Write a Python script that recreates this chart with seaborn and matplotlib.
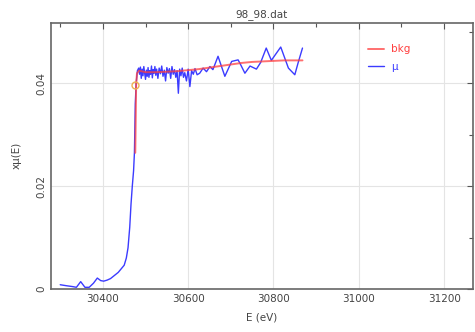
import matplotlib
matplotlib.use("Agg")
import matplotlib.pyplot as plt
from matplotlib.ticker import MultipleLocator
import seaborn as sns
import pandas as pd

# energy grid (eV) and absorption for the data trace
energy = [30300, 30315, 30328, 30338, 30348, 30358, 30368, 30378, 30387, 30395,
          30402, 30410, 30418, 30427, 30436, 30444, 30450, 30455, 30459, 30463,
          30466, 30469, 30472, 30474, 30476, 30478, 30481, 30484, 30486, 30488,
          30490, 30492, 30494, 30496, 30498, 30500, 30502, 30504, 30506, 30508,
          30510, 30512, 30514, 30516, 30518, 30520, 30522, 30524, 30526, 30529,
          30532, 30535, 30538, 30541, 30544, 30547, 30550, 30553, 30556, 30559,
          30562, 30565, 30568, 30571, 30574, 30577, 30580, 30583, 30586, 30589,
          30592, 30596, 30600, 30604, 30608, 30612, 30616, 30621, 30627, 30635,
          30643, 30651, 30658, 30670, 30686, 30702, 30717, 30721, 30733, 30745,
          30760, 30770, 30783, 30795, 30817, 30835, 30850, 30858, 30868]
mu = [0.0008, 0.0006, 0.00045, 0.0003, 0.0014, 0.0003, 0.0003, 0.0011, 0.0021, 0.0016,
      0.0015, 0.0017, 0.0020, 0.0026, 0.0032, 0.0040, 0.0046, 0.0060, 0.0080, 0.0120,
      0.0165, 0.0200, 0.0230, 0.0265, 0.0360, 0.0400, 0.0425, 0.0430, 0.0418, 0.0432,
      0.0410, 0.0428, 0.0415, 0.0433, 0.0420, 0.0408, 0.0426, 0.0414, 0.0431, 0.0412,
      0.0425, 0.0418, 0.0434, 0.0411, 0.0427, 0.0420, 0.0433, 0.0416, 0.0428, 0.0410,
      0.0430, 0.0419, 0.0434, 0.0414, 0.0426, 0.0405, 0.0431, 0.0420, 0.0429, 0.0410,
      0.0433, 0.0418, 0.0427, 0.0412, 0.0425, 0.0381, 0.0428, 0.0415, 0.0430, 0.0412,
      0.0421, 0.0405, 0.0428, 0.0394, 0.0425, 0.0418, 0.0429, 0.0417, 0.0420, 0.0430,
      0.0423, 0.0433, 0.0427, 0.0453, 0.0414, 0.0443, 0.0446, 0.0440, 0.0420, 0.0434,
      0.0428, 0.0441, 0.0469, 0.0445, 0.0471, 0.0430, 0.0417, 0.0441, 0.0469]

# smooth background
bkg_energy = [30476, 30478, 30480, 30485, 30500, 30525, 30550, 30575, 30600, 30625,
              30650, 30675, 30700, 30725, 30750, 30775, 30800, 30825, 30850, 30868]
bkg = [0.0265, 0.0398, 0.0420, 0.0425, 0.0422, 0.0422, 0.0423, 0.0424, 0.0426, 0.0428,
       0.0431, 0.0434, 0.0437, 0.0440, 0.0442, 0.0443, 0.0444, 0.0445, 0.0445, 0.0445]

# edge energy marker
e0 = [30475]
e0_mu = [0.0398]

df_mu = pd.DataFrame({"E": energy, "mu": mu})
df_bkg = pd.DataFrame({"E": bkg_energy, "bkg": bkg})

sns.set_style("white")
plt.rcParams["font.family"] = ["DejaVu Sans"]

fig = plt.figure(figsize=(4.75, 3.32), dpi=100)
ax = fig.add_axes([0.107, 0.13, 0.889, 0.801])

sns.lineplot(data=df_mu, x="E", y="mu", ax=ax, color="#3b3bff", lw=1.0,
             label="\u03bc", sort=False)
sns.lineplot(data=df_bkg, x="E", y="bkg", ax=ax, color="#ff4040", lw=1.4,
             alpha=0.75, label="bkg", sort=False)
ax.plot(e0, e0_mu, "o", mfc="none", mec="#f0b050", ms=5, mew=1.0)

ax.set_xlim(30278, 31268)
ax.set_ylim(0, 0.0518)
ax.xaxis.set_major_locator(MultipleLocator(200))
ax.xaxis.set_minor_locator(MultipleLocator(100))
ax.yaxis.set_major_locator(MultipleLocator(0.02))
ax.yaxis.set_minor_locator(MultipleLocator(0.01))
ax.set_yticks([0, 0.02, 0.04])
ax.set_yticklabels(["0", "0.02", "0.04"], rotation=90, va="center")

ax.grid(True, which="major", color="#e4e4e4", lw=0.8)
ax.tick_params(which="both", direction="in", top=True, right=True,
               colors="#555555", labelcolor="#444444", labelsize=7.5)
ax.tick_params(which="major", length=4, width=0.8)
ax.tick_params(which="minor", length=3, width=0.8)
for s in ax.spines.values():
    s.set_color("#666666")
    s.set_linewidth(1.2)

ax.set_title("98_98.dat", fontsize=7.5, color="#444444", pad=4)
ax.set_xlabel("E (eV)", fontsize=7.5, color="#444444", labelpad=6)
ax.set_ylabel("x\u03bc(E)", fontsize=7.5, color="#444444", labelpad=10)

handles, labels = ax.get_legend_handles_labels()
leg = ax.legend(handles[::-1], labels[::-1], loc="upper left",
                bbox_to_anchor=(0.73, 0.955), frameon=False, fontsize=7.5,
                handlelength=1.5, handletextpad=0.7, labelspacing=0.75)
for t, c in zip(leg.get_texts(), ["#ff4040", "#3b3bff"]):
    t.set_color(c)

fig.savefig("out.png", dpi=100)
